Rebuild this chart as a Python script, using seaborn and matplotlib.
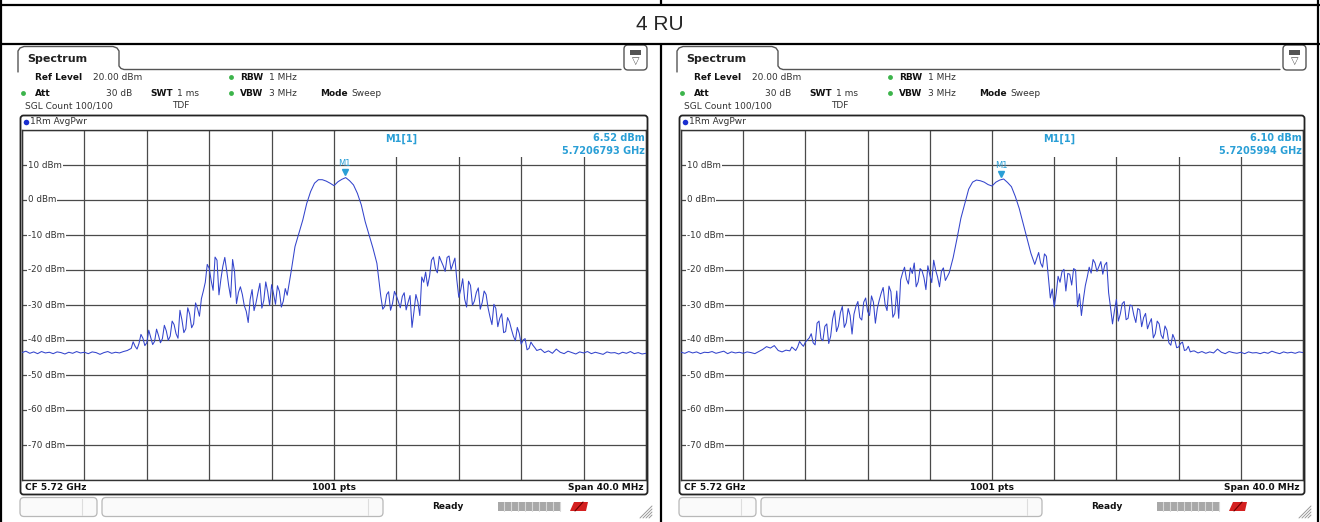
import numpy as np
import pandas as pd
import seaborn as sns
import matplotlib.pyplot as plt
from matplotlib.patches import FancyBboxPatch, Rectangle, Polygon
from matplotlib.transforms import offset_copy

# sweep points (MHz offset from CF 5.72 GHz), 0.25 MHz apart
freq_mhz = np.linspace(-20, 20, 161)
# extra in-between samples in the noisy sidebands
mid_freq_mhz = np.concatenate([np.arange(-12.875, -3.0, 0.25),
                               np.arange(3.125, 13.0, 0.25)])

# left screenshot trace, dBm (rows of 2 MHz)
left_dbm = [
    -43.6, -43.2, -43.8, -43.4, -43.9, -43.3, -43.7, -43.5,
    -43.9, -43.4, -43.6, -44.0, -43.5, -43.8, -43.3, -43.7,
    -43.5, -43.9, -43.4, -43.6, -44.1, -43.6, -43.3, -43.8,
    -43.5, -43.7, -43.3, -43.0, -42.4, -41.8, -41.0, -39.5,
    -40.8, -39.2, -40.4, -38.7, -39.6, -37.4, -38.9, -35.6,
    -39.5, -34.2, -36.8, -32.6, -35.4, -31.0, -28.2, -23.5,
    -19.5, -25.8, -17.2, -22.6, -16.4, -24.5, -17.0, -29.6,
    -24.8, -30.2, -35.0, -25.6, -29.4, -23.8, -28.7, -26.2,
    -24.2, -29.8, -26.1, -28.9, -27.2, -20.5, -13.3, -9.5,
    -5.7, -1.0, 2.4, 4.8, 5.8, 5.8, 5.4, 4.8,
    4.1, 5.2, 5.9, 6.4, 5.5, 4.3, 1.9, -1.4,
    -6.2, -10.0, -13.8, -18.1, -27.5, -30.4, -26.2, -29.6,
    -27.4, -30.8, -26.5, -29.2, -36.4, -27.0, -33.0, -23.5,
    -24.6, -17.2, -19.6, -16.1, -18.8, -16.4, -19.9, -16.6,
    -27.8, -22.5, -30.6, -24.4, -28.9, -25.1, -29.3, -27.0,
    -33.4, -29.8, -36.2, -32.5, -37.6, -34.8, -38.9, -36.4,
    -41.2, -39.6, -42.4, -41.5, -43.0, -42.6, -43.6, -43.1,
    -43.8, -42.6, -43.5, -43.9, -43.2, -43.6, -44.0, -43.4,
    -43.7, -43.3, -43.9, -43.5, -43.8, -44.1, -43.4, -43.7,
    -43.6, -44.0, -43.5, -43.8, -43.3, -43.9, -43.6, -44.0,
    -43.8,
]
left_mid_dbm = [
    -40.5, -42.6, -38.4, -41.6, -37.2, -41.3, -36.9, -40.8,
    -35.8, -40.1, -34.6, -38.2, -31.5, -37.9, -30.8, -36.5,
    -29.4, -33.2, -26.0, -18.4, -23.0, -16.3, -27.1, -18.9,
    -20.3, -27.8, -20.5, -26.4, -27.0, -31.8, -28.4, -31.6,
    -26.5, -30.9, -23.4, -30.1, -26.8, -24.5, -30.6, -25.3,
    -31.2, -27.0, -31.5, -26.1, -29.0, -27.6, -31.4, -27.3,
    -31.9, -29.1, -22.0, -20.6, -21.8, -16.3, -20.8, -17.5,
    -20.4, -16.0, -18.2, -22.9, -25.6, -28.3, -23.2, -30.1,
    -26.4, -31.2, -26.0, -30.8, -35.6, -31.0, -33.8, -37.9,
    -33.6, -37.0, -40.2, -38.1, -40.0, -42.8, -40.6, -42.2,
]

# right screenshot trace, dBm
right_dbm = [
    -43.5, -43.8, -43.3, -43.7, -43.4, -43.9, -43.5, -43.6,
    -43.3, -43.8, -43.5, -43.2, -43.9, -43.4, -43.7, -43.5,
    -43.8, -43.4, -43.6, -43.9, -43.3, -42.7, -41.9, -42.3,
    -41.6, -43.0, -43.4, -42.9, -43.1, -42.5, -42.0, -41.2,
    -40.6, -39.4, -40.8, -35.2, -39.6, -36.1, -41.0, -34.0,
    -37.6, -32.2, -36.4, -31.0, -38.3, -30.4, -33.6, -29.2,
    -31.8, -27.4, -35.2, -28.6, -25.0, -31.6, -26.2, -32.4,
    -33.8, -20.8, -22.6, -19.4, -18.0, -23.4, -20.2, -25.6,
    -21.4, -17.2, -22.0, -20.3, -23.0, -20.8, -16.5, -11.0,
    -5.2, -1.0, 3.1, 5.1, 5.7, 5.5, 5.1, 4.4,
    4.0, 5.1, 5.7, 6.0, 5.0, 3.8, 1.0, -2.4,
    -6.7, -11.0, -15.2, -18.4, -15.0, -19.2, -16.1, -28.0,
    -30.6, -21.8, -20.5, -26.0, -21.2, -19.6, -30.5, -33.0,
    -24.5, -19.2, -17.0, -20.4, -17.6, -18.6, -26.5, -35.4,
    -28.4, -32.6, -29.0, -33.8, -30.2, -35.0, -31.4, -33.6,
    -36.8, -33.9, -38.2, -35.4, -39.6, -37.2, -41.5, -39.8,
    -42.0, -40.6, -42.8, -43.4, -43.1, -43.7, -43.3, -43.8,
    -43.4, -43.7, -42.6, -43.5, -43.9, -43.3, -43.6, -43.8,
    -43.5, -43.9, -43.4, -43.7, -43.6, -43.9, -43.5, -43.8,
    -43.2, -43.6, -43.9, -43.4, -43.7, -43.5, -43.8, -43.4,
    -43.6,
]
right_mid_dbm = [
    -42.0, -43.0, -40.4, -41.8, -40.0, -38.2, -41.4, -34.6,
    -40.2, -35.4, -38.9, -31.6, -36.0, -30.4, -35.1, -33.0,
    -32.6, -29.0, -34.3, -28.0, -33.0, -29.2, -31.0, -26.6,
    -29.8, -24.6, -33.5, -26.0, -22.8, -19.2, -24.0, -21.0,
    -24.8, -19.6, -22.2, -18.8, -23.6, -20.0, -24.8, -19.4,
    -18.0, -15.4, -22.0, -25.4, -26.8, -23.5, -19.8, -21.0,
    -24.3, -20.0, -26.8, -28.4, -22.0, -20.9, -18.0, -19.0,
    -21.2, -17.8, -30.8, -31.6, -34.6, -29.6, -34.2, -30.0,
    -33.0, -31.0, -36.2, -32.4, -35.2, -39.4, -34.6, -38.6,
    -36.0, -40.8, -38.4, -42.2, -41.0, -43.0, -41.8, -43.2,
]

# marker readouts
marker_ghz = [5.7206793, 5.7205994]
marker_dbm = [6.52, 6.10]
marker_text = ["6.52 dBm", "6.10 dBm"]
cf_ghz = 5.72

y_ticks = [10, 0, -10, -20, -30, -40, -50, -60, -70]

W, H = 1320, 522
sns.set_style("white")
plt.rcParams['font.family'] = ['DejaVu Sans']

fig = plt.figure(figsize=(W / 100, H / 100), dpi=100)
bg = fig.add_axes([0, 0, 1, 1])
bg.set_xlim(0, W)
bg.set_ylim(H, 0)
bg.axis('off')

# table lines
lk = dict(color='black', lw=1.6, solid_capstyle='butt')
bg.plot([0, W], [5, 5], **lk)
bg.plot([0, W], [44, 44], **lk)
bg.plot([1, 1], [0, H], **lk)
bg.plot([W - 2, W - 2], [0, H], **lk)
bg.plot([661, 661], [0, 5], **lk)
bg.plot([661, 661], [44, H], **lk)
bg.text(660, 25, "4 RU", ha='center', va='center', fontsize=15,
        family='Liberation Sans')

grey = '#555555'
green = '#3cb44b'
cyan = '#2a9fd6'
blue = '#3344cc'
fs = 6.5


def panel(x0, pw, levels, mid_levels, k):
    # tab + header line
    bg.plot([x0 + 18, x0 + 18, x0 + 20, x0 + 24, x0 + 113, x0 + 117, x0 + 119,
             x0 + 119, x0 + 121, x0 + 124, x0 + 621],
            [72, 51, 48, 46.5, 46.5, 48, 51, 66, 68.5, 69.5, 69.5],
            color=grey, lw=1)
    bg.text(x0 + 27, 59, "Spectrum", fontsize=8, fontweight='bold',
            va='center', color='#222')
    bg.add_patch(FancyBboxPatch((x0 + 624, 45), 23, 25,
                                boxstyle='round,pad=0,rounding_size=4',
                                ec=grey, fc='white', lw=1))
    bg.add_patch(Rectangle((x0 + 630, 50), 11, 4.5, fc=grey, ec='none'))
    bg.text(x0 + 635.5, 61, "▽", ha='center', va='center', fontsize=7,
            color=grey)

    # settings
    t = dict(fontsize=fs, va='center', color='#333')
    b = dict(fontsize=fs, va='center', color='#111', fontweight='bold')
    bg.text(x0 + 35, 77, "Ref Level", **b)
    bg.text(x0 + 93, 77, "20.00 dBm", **t)
    bg.plot([x0 + 231, x0 + 23, x0 + 231], [77, 93, 93], 'o', ms=3.5,
            color=green, mec='none')
    bg.text(x0 + 240, 77, "RBW", **b)
    bg.text(x0 + 269, 77, "1 MHz", **t)
    bg.text(x0 + 35, 93, "Att", **b)
    bg.text(x0 + 132, 93, "30 dB", ha='right', **t)
    bg.text(x0 + 150, 93, "SWT", **b)
    bg.text(x0 + 177, 93, "1 ms", **t)
    bg.text(x0 + 240, 93, "VBW", **b)
    bg.text(x0 + 269, 93, "3 MHz", **t)
    bg.text(x0 + 320, 93, "Mode", **b)
    bg.text(x0 + 351, 93, "Sweep", **t)
    bg.text(x0 + 25, 106, "SGL Count 100/100", **t)
    bg.text(x0 + 172, 106, "TDF", **t)

    # trace window frame
    right = x0 + 22 + pw
    bg.add_patch(FancyBboxPatch((x0 + 20.5, 115.5), pw + 3, 379,
                                boxstyle='round,pad=0,rounding_size=3',
                                ec='#222', fc='none', lw=1.3))
    bg.plot([x0 + 26], [121.5], 'o', ms=4, color='#1a2fd0', mec='none')
    bg.text(x0 + 30, 121.5, "1Rm AvgPwr", **t)

    # footer
    bg.text(x0 + 25, 487, f"CF {cf_ghz:.2f} GHz", **b)
    bg.text(x0 + 22 + pw / 2, 487, "1001 pts", ha='center', **b)
    bg.text(right - 3, 487, "Span 40.0 MHz", ha='right', **b)

    # status bar
    for bx, bw, dv in [(x0 + 20, 77, x0 + 82), (x0 + 102, 281, x0 + 368)]:
        bg.add_patch(FancyBboxPatch((bx, 497.5), bw, 19,
                                    boxstyle='round,pad=0,rounding_size=4',
                                    ec='#b8b8b8', fc='#fafafa', lw=0.9))
        bg.plot([dv, dv], [499, 515], color='#dddddd', lw=0.8)
    bg.text(x0 + 448, 506.5, "Ready", ha='center', **b)
    bg.add_patch(Rectangle((x0 + 498, 502), 63, 9, fc='#a8a8a8', ec='none'))
    for sx in range(504, 561, 7):
        bg.plot([x0 + sx, x0 + sx], [502, 511], color='#d8d8d8', lw=0.8)
    bg.add_patch(Polygon([[x0 + 570, 511], [x0 + 574, 502], [x0 + 588, 502],
                          [x0 + 586, 511]], fc='#d42020', ec='none'))
    bg.plot([x0 + 575, x0 + 583], [511, 502], color='#6a0000', lw=0.8)
    for d in range(0, 12, 3):
        bg.plot([x0 + 640 + d, x0 + 652], [518, 506 + d], color='#999', lw=0.7)

    # trace axes
    ax = fig.add_axes([(x0 + 22) / W, 1 - 480 / H, pw / W, 350 / H])
    df = pd.DataFrame({'f': np.concatenate([freq_mhz, mid_freq_mhz]),
                       'dbm': np.concatenate([levels, mid_levels])})
    df = df.sort_values('f')
    sns.lineplot(data=df, x='f', y='dbm', ax=ax, color=blue, lw=0.75,
                 estimator=None, zorder=3)
    ax.set_xlim(-20, 20)
    ax.set_ylim(-80, 20)
    ax.set_xticks(np.arange(-20, 21, 4))
    ax.set_yticks(np.arange(-80, 21, 10))
    ax.set_xticklabels([])
    ax.set_yticklabels([])
    ax.tick_params(length=0)
    ax.set_xlabel('')
    ax.set_ylabel('')
    ax.set_axisbelow(True)
    ax.grid(True, color='#4a4a4a', lw=0.9)
    for s in ax.spines.values():
        s.set_color('#333')
        s.set_linewidth(1)
    ax.patch.set_alpha(0)

    # marker info area
    ax.add_patch(Rectangle((0.15, 12.2), 19.8, 7.75, fc='white', ec='none',
                           zorder=1))
    ax.text(4.3, 17.6, "M1[1]", fontsize=7, color=cyan, ha='center',
            va='center', fontweight='bold')
    ax.text(19.9, 17.6, marker_text[k], fontsize=7, color=cyan,
            ha='right', va='center', fontweight='bold')
    ax.text(19.9, 13.9, f"{marker_ghz[k]:.7f} GHz", fontsize=7, color=cyan,
            ha='right', va='center', fontweight='bold')

    # marker
    mf = (marker_ghz[k] - cf_ghz) * 1000
    tri = offset_copy(ax.transData, fig=fig, x=0, y=3.5, units='points')
    ax.plot([mf], [marker_dbm[k]], 'v', ms=5, color=cyan, transform=tri,
            zorder=4)
    ax.annotate("M1", xy=(mf, marker_dbm[k]), xytext=(0, 9.5),
                textcoords='offset points', ha='center', va='center',
                fontsize=6, color=cyan)

    # level labels
    for v in y_ticks:
        ax.text(-19.6, v, f"{v} dBm", fontsize=6.3, color='#333', va='center',
                ha='left', zorder=2,
                bbox=dict(fc='white', ec='none', pad=0.6))
    return ax


panel(0, 624, left_dbm, left_mid_dbm, 0)
panel(659, 622, right_dbm, right_mid_dbm, 1)

fig.savefig("out.png", dpi=100)
